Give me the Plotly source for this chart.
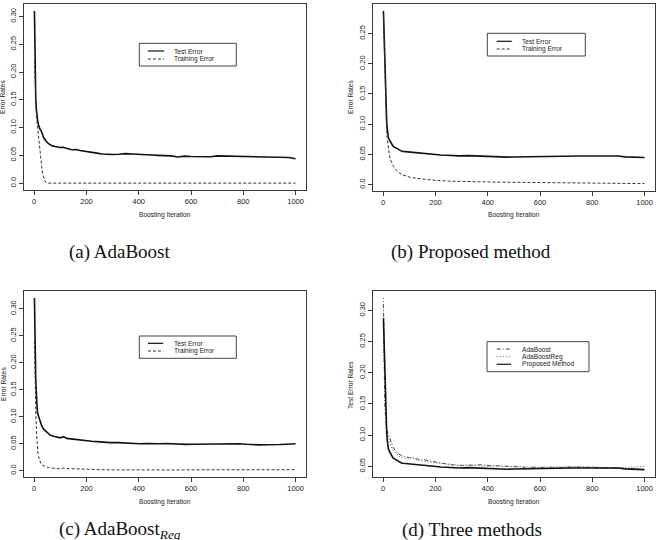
import plotly.graph_objects as go

W, H = 663, 540

# ---------------- data ----------------
# (a) AdaBoost
ada_test_it = [1, 2, 3, 4, 6, 8, 10, 13, 17, 20, 23, 26, 29, 33, 36, 42, 48, 55, 62, 70, 80, 90,
               100, 110, 125, 140, 150, 160, 175, 190, 200, 220, 240, 260, 280, 300, 325, 350, 375,
               400, 425, 450, 475, 500, 525, 550, 575, 600, 625, 650, 675, 700, 725, 750, 775, 800,
               825, 850, 875, 900, 925, 950, 975, 1000]
ada_test = [0.310, 0.262, 0.222, 0.198, 0.152, 0.135, 0.124, 0.113, 0.104, 0.099, 0.096, 0.095,
            0.089, 0.086, 0.082, 0.077, 0.074, 0.071, 0.069, 0.067, 0.066, 0.065, 0.064, 0.0645,
            0.062, 0.0605, 0.060, 0.0605, 0.0588, 0.058, 0.0568, 0.0555, 0.054, 0.0525, 0.0515,
            0.0515, 0.052, 0.053, 0.0525, 0.0515, 0.051, 0.0505, 0.050, 0.0495, 0.049, 0.047,
            0.0485, 0.048, 0.0475, 0.0478, 0.0475, 0.049, 0.0488, 0.049, 0.048, 0.0478, 0.048,
            0.0475, 0.0475, 0.0478, 0.047, 0.0472, 0.046, 0.044]
ada_train_it = [1, 4, 8, 12, 16, 20, 25, 30, 35, 40, 46, 52, 1000]
ada_train = [0.22, 0.17, 0.13, 0.105, 0.085, 0.066, 0.042, 0.024, 0.012, 0.005, 0.001, 0.0, 0.0]

# (b) Proposed method
prop_test_it = [1, 3, 5, 7, 9, 11, 13, 15, 18, 20, 24, 27, 32, 37, 43, 50, 57, 63, 70, 75, 85,
                100, 115, 126, 145, 165, 185, 203, 220, 241, 260, 292, 325, 350, 375, 400, 425,
                450, 475, 500, 525, 550, 575, 600, 625, 650, 675, 700, 725, 750, 775, 800, 825,
                850, 875, 900, 925, 950, 975, 1000]
prop_test = [0.2875, 0.25, 0.216, 0.185, 0.16, 0.13, 0.11, 0.094, 0.083, 0.078, 0.074, 0.071,
             0.067, 0.064, 0.062, 0.060, 0.058, 0.057, 0.0555, 0.055, 0.0545, 0.054, 0.0535,
             0.053, 0.052, 0.0513, 0.050, 0.0497, 0.049, 0.0485, 0.0478, 0.0475, 0.048, 0.0475,
             0.0465, 0.046, 0.0455, 0.045, 0.0455, 0.0458, 0.046, 0.0465, 0.0468, 0.047, 0.0475,
             0.0476, 0.047, 0.0472, 0.0475, 0.0473, 0.0474, 0.0475, 0.0472, 0.047, 0.0472,
             0.0473, 0.046, 0.0455, 0.045, 0.0448]
prop_train_it = [1, 3, 5, 7, 9, 11, 13, 15, 18, 21, 24, 28, 33, 40, 50, 60, 75, 90, 100, 125, 150,
                 175, 200, 250, 300, 350, 400, 450, 500, 550, 600, 650, 700, 750, 800, 850, 900,
                 950, 1000]
prop_train = [0.28, 0.24, 0.20, 0.165, 0.135, 0.11, 0.092, 0.078, 0.064, 0.055, 0.048, 0.041,
              0.036, 0.030, 0.024, 0.020, 0.016, 0.0135, 0.0125, 0.0105, 0.009, 0.0078, 0.007,
              0.0058, 0.005, 0.0047, 0.0044, 0.004, 0.0038, 0.0036, 0.0033, 0.003, 0.0028,
              0.0025, 0.0023, 0.0021, 0.002, 0.0018, 0.0017]

# (c) AdaBoost_Reg
reg_test_it = [1, 2, 4, 6, 8, 10, 12, 14, 18, 23, 29, 36, 42, 49, 55, 61, 74, 85, 100, 112, 125,
               140, 163, 180, 202, 220, 240, 265, 291, 320, 352, 380, 404, 430, 455, 480, 506,
               530, 557, 580, 608, 630, 659, 685, 710, 735, 761, 785, 812, 840, 863, 890, 914,
               940, 966, 985, 1000]
reg_test = [0.32, 0.27, 0.21, 0.17, 0.148, 0.12, 0.11, 0.105, 0.098, 0.090, 0.083, 0.077, 0.074,
            0.0705, 0.068, 0.066, 0.064, 0.0625, 0.061, 0.063, 0.060, 0.059, 0.0575, 0.057,
            0.055, 0.0545, 0.054, 0.0528, 0.052, 0.052, 0.051, 0.0505, 0.050, 0.0502, 0.0495,
            0.050, 0.0505, 0.0498, 0.049, 0.0488, 0.049, 0.0492, 0.0495, 0.0498, 0.050, 0.0505,
            0.0505, 0.050, 0.049, 0.0482, 0.048, 0.0482, 0.048, 0.0485, 0.049, 0.0495, 0.050]
reg_train_it = [1, 3, 5, 7, 9, 11, 14, 17, 20, 25, 30, 36, 45, 55, 70, 85, 100, 112, 125, 150,
                186, 220, 250, 300, 378, 450, 506, 570, 634, 700, 761, 820, 889, 950, 1000]
reg_train = [0.24, 0.17, 0.13, 0.095, 0.07, 0.05, 0.034, 0.026, 0.019, 0.014, 0.011, 0.0088,
             0.0072, 0.006, 0.0047, 0.004, 0.0037, 0.005, 0.0043, 0.0036, 0.0026, 0.0024, 0.002,
             0.0016, 0.0012, 0.0012, 0.0012, 0.0015, 0.0018, 0.0019, 0.0019, 0.0019, 0.0019,
             0.0019, 0.0019]

x_ticks = [0, 200, 400, 600, 800, 1000]
y_ticks_a = [0.0, 0.05, 0.10, 0.15, 0.20, 0.25, 0.30]
y_labels_a = ["0.0", "0.05", "0.10", "0.15", "0.20", "0.25", "0.30"]
y_ticks_b = [0.0, 0.05, 0.10, 0.15, 0.20, 0.25]
y_labels_b = ["0.0", "0.05", "0.10", "0.15", "0.20", "0.25"]
y_ticks_d = [0.05, 0.10, 0.15, 0.20, 0.25, 0.30]
y_labels_d = ["0.05", "0.10", "0.15", "0.20", "0.25", "0.30"]

captions = ["(a) AdaBoost", "(b) Proposed method",
            "(c) AdaBoost<sub><i>Reg</i></sub>", "(d) Three methods"]

# ---------------- helpers ----------------
def px(x):
    return x / W

def py(y):
    return 1 - y / H

def rrange(vals):
    lo, hi = min(vals), max(vals)
    d = 0.04 * (hi - lo)
    return [lo - d, hi + d]

SANS = "Liberation Sans, Arial, Helvetica, sans-serif"
SERIF = "Liberation Serif, Times New Roman, serif"
FRAME = "#3a3a3a"
TXT = "#222222"

fig = go.Figure()

solid = dict(color="#111111", width=1.6)
dashed = dict(color="#333333", width=1, dash="3px,2px")

# panel a
fig.add_trace(go.Scatter(x=ada_test_it, y=ada_test, mode="lines", line=solid, xaxis="x", yaxis="y"))
fig.add_trace(go.Scatter(x=ada_train_it, y=ada_train, mode="lines", line=dashed, xaxis="x", yaxis="y"))
# panel b
fig.add_trace(go.Scatter(x=prop_test_it, y=prop_test, mode="lines", line=solid, xaxis="x2", yaxis="y2"))
fig.add_trace(go.Scatter(x=prop_train_it, y=prop_train, mode="lines", line=dashed, xaxis="x2", yaxis="y2"))
# panel c
fig.add_trace(go.Scatter(x=reg_test_it, y=reg_test, mode="lines", line=solid, xaxis="x3", yaxis="y3"))
fig.add_trace(go.Scatter(x=reg_train_it, y=reg_train, mode="lines", line=dashed, xaxis="x3", yaxis="y3"))
# panel d
fig.add_trace(go.Scatter(x=ada_test_it, y=ada_test, mode="lines",
                         line=dict(color="#444444", width=1, dash="4px,2px,1px,2px"), xaxis="x4", yaxis="y4"))
fig.add_trace(go.Scatter(x=reg_test_it, y=reg_test, mode="lines",
                         line=dict(color="#666666", width=1, dash="1px,2px"), xaxis="x4", yaxis="y4"))
fig.add_trace(go.Scatter(x=prop_test_it, y=prop_test, mode="lines", line=solid, xaxis="x4", yaxis="y4"))

xr = [1 - 0.04 * 999, 1000 + 0.04 * 999]

frames = {
    1: (24, 4, 306, 190),
    2: (373, 4, 655, 190.5),
    3: (24, 291, 306, 477),
    4: (373, 291, 655, 477),
}
yranges = {
    1: rrange(ada_test + ada_train),
    2: rrange(prop_test + prop_train),
    3: rrange(reg_test + reg_train),
    4: rrange(ada_test + reg_test + prop_test),
}
yticks = {1: (y_ticks_a, y_labels_a), 2: (y_ticks_b, y_labels_b),
          3: (y_ticks_a, y_labels_a), 4: (y_ticks_d, y_labels_d)}

common = dict(showline=True, mirror=True, linecolor=FRAME, linewidth=1, ticks="outside",
              ticklen=4, tickwidth=1, tickcolor=FRAME, showgrid=False, zeroline=False,
              tickfont=dict(family=SANS, size=7.5, color=TXT))

layout = dict(width=W, height=H, margin=dict(l=0, r=0, t=0, b=0),
              paper_bgcolor="white", plot_bgcolor="white", showlegend=False)
for i in range(1, 5):
    x0, y0, x1, y1 = frames[i]
    sx = "" if i == 1 else str(i)
    layout["xaxis" + sx] = dict(domain=[px(x0), px(x1)], range=xr, anchor="y" + sx,
                                tickvals=x_ticks, ticktext=[str(v) for v in x_ticks], **common)
    tv, tt = yticks[i]
    layout["yaxis" + sx] = dict(domain=[py(y1), py(y0)], range=yranges[i], anchor="x" + sx,
                                tickvals=tv, ticktext=tt, tickangle=-90, **common)
fig.update_layout(**layout)

ann = []
shapes = []

def text(x, y, s, size=6.6, angle=0, xanchor="center", family=SANS, color=TXT):
    ann.append(dict(x=px(x), y=py(y), xref="paper", yref="paper", text=s, showarrow=False,
                    textangle=angle, xanchor=xanchor, yanchor="middle",
                    font=dict(family=family, size=size, color=color)))

# axis titles
text(165, 215, "Boosting Iteration")
text(514, 215, "Boosting Iteration")
text(165, 502, "Boosting Iteration")
text(514, 502, "Boosting Iteration")
text(3, 97, "Error Rates", angle=-90)
text(351, 97, "Error Rates", angle=-90)
text(3, 384, "Error Rates", angle=-90)
text(351, 385, "Test Error Rates", angle=-90)

# captions
text(120, 252, captions[0], size=19, family=SERIF, color="#111")
text(471, 252, captions[1], size=19, family=SERIF, color="#111")
text(120, 530, captions[2], size=19, family=SERIF, color="#111")
text(472, 530, captions[3], size=19, family=SERIF, color="#111")

# legends
def legend(box, rows, sample, tx, items):
    bx0, by0, bx1, by1 = box
    shapes.append(dict(type="rect", xref="paper", yref="paper", x0=px(bx0), x1=px(bx1),
                       y0=py(by1), y1=py(by0), line=dict(color="#444", width=1)))
    for ry, (label, ln) in zip(rows, items):
        shapes.append(dict(type="line", xref="paper", yref="paper", x0=px(sample[0]),
                           x1=px(sample[1]), y0=py(ry), y1=py(ry), line=ln))
        text(tx, ry, label, xanchor="left")

leg_solid = dict(color="#111", width=1.2)
leg_dash = dict(color="#333", width=1, dash="3px,2px")
legend((139.3, 43.3, 236.3, 66), [51, 59], (148, 164), 171.7,
       [("Test Error", leg_solid), ("Training Error", leg_dash)])
legend((487.3, 33.3, 585.3, 56), [41.3, 49], (496.7, 511.7), 520,
       [("Test Error", leg_solid), ("Training Error", leg_dash)])
legend((139.3, 336, 236.3, 358.3), [343.3, 351], (148, 163.3), 171.7,
       [("Test Error", leg_solid), ("Training Error", leg_dash)])
legend((487, 341.7, 589, 371.7), [349, 356.7, 364.3], (496.7, 511), 520,
       [("AdaBoost", dict(color="#444", width=1, dash="4px,2px,1px,2px")),
        ("AdaBoostReg", dict(color="#666", width=1, dash="1px,2px")),
        ("Proposed Method", leg_solid)])

fig.update_layout(annotations=ann, shapes=shapes)
fig.write_html("out.html")
